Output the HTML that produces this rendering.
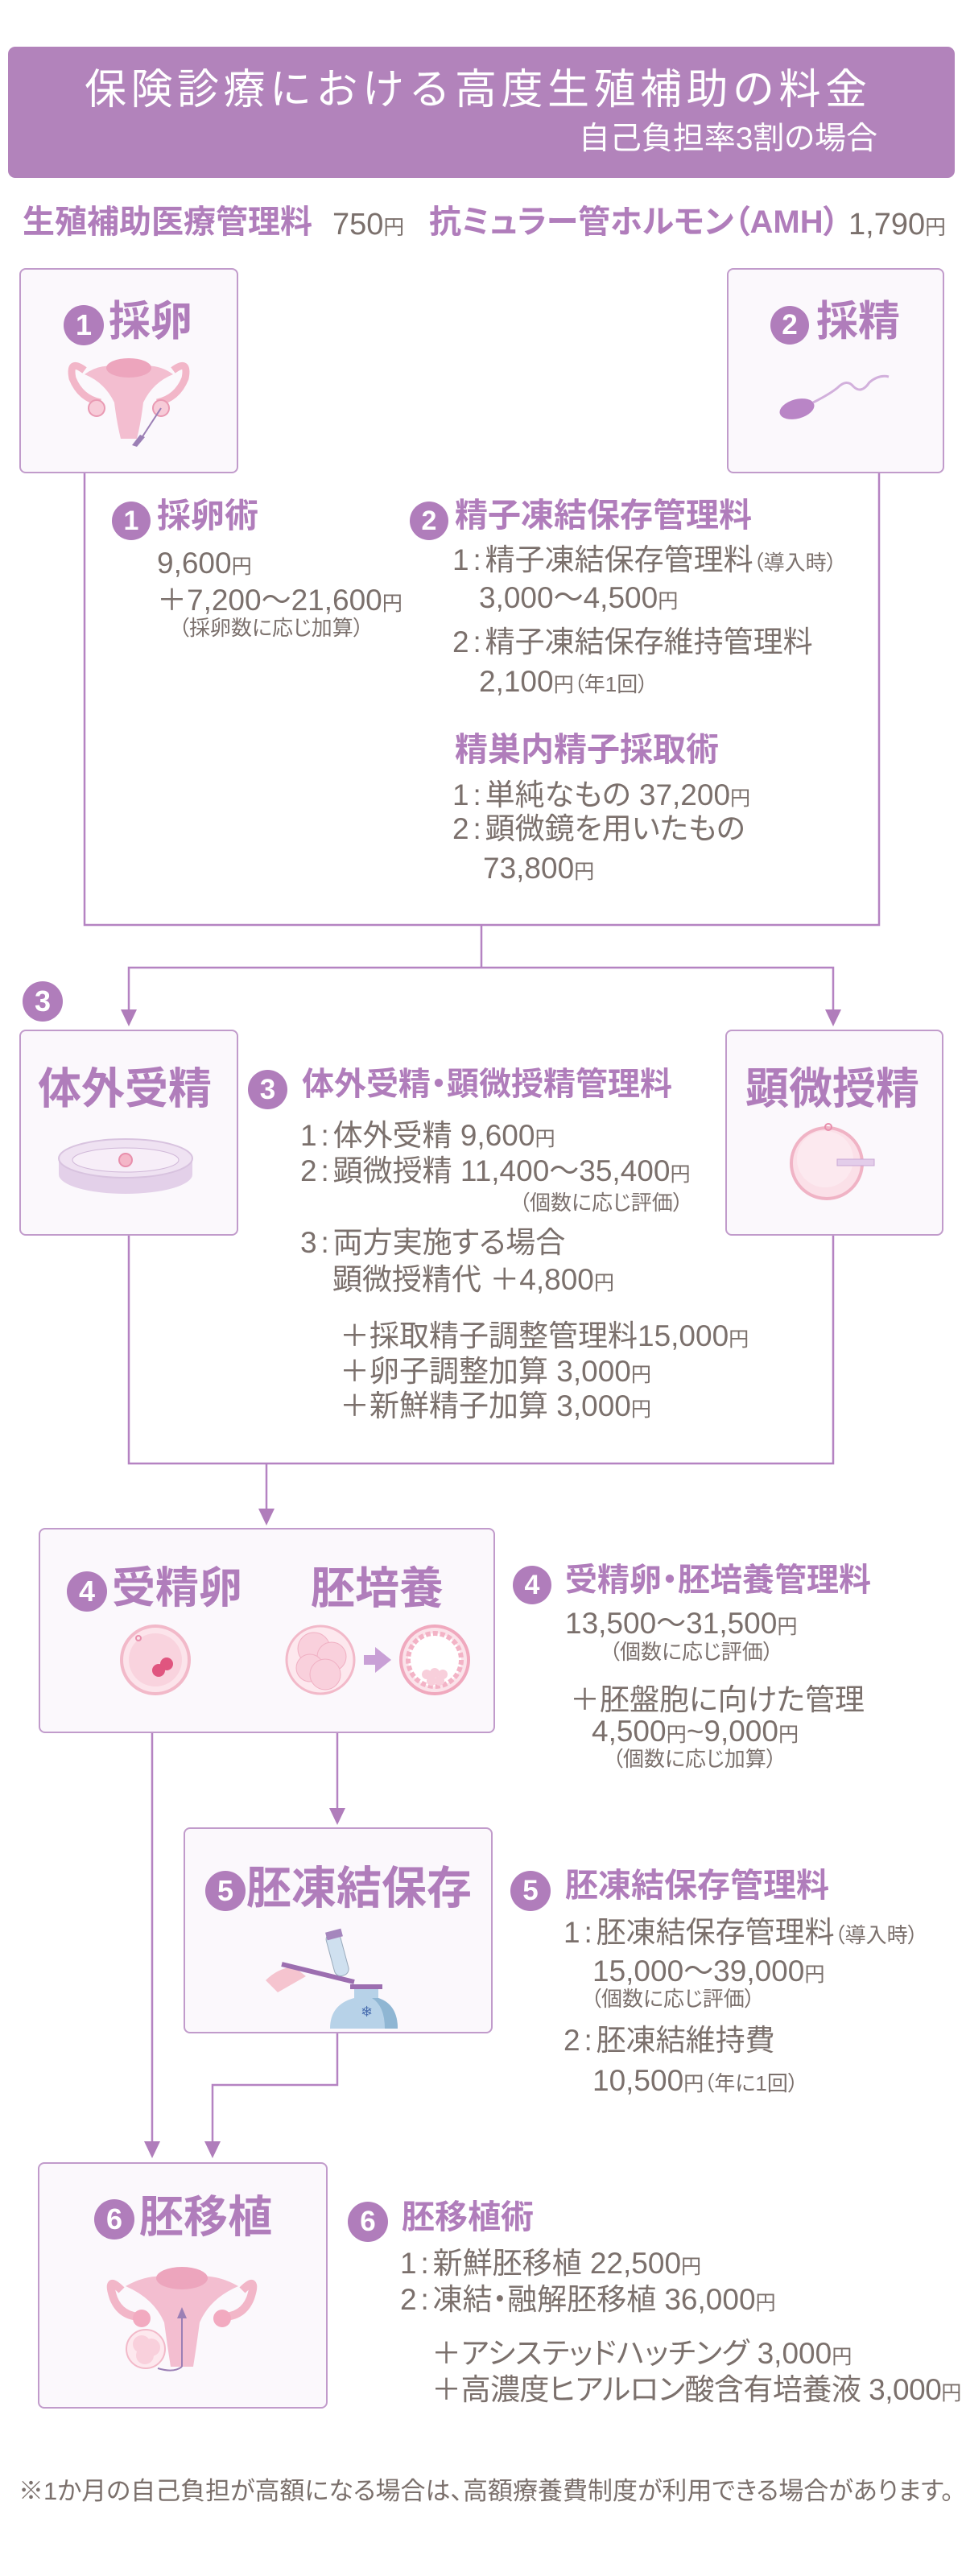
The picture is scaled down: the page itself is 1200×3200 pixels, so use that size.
<!DOCTYPE html>
<html><head><meta charset="utf-8">
<style>
html,body{margin:0;padding:0;background:#fff;}
#w{position:relative;width:1200px;height:3200px;overflow:hidden;font-family:"Liberation Sans","Noto Sans CJK JP",sans-serif;font-feature-settings:"palt";}
.t{position:absolute;white-space:nowrap;line-height:1;color:#7b706c;font-size:37px;font-family:"Liberation Sans Narrow","Liberation Sans","Noto Sans CJK JP",sans-serif;}
.p{color:#b07dbb;font-weight:bold;font-family:"Liberation Sans","Noto Sans CJK JP",sans-serif;}
.y{font-size:0.68em;}
.s{font-size:26px;}
.k{display:inline-block;width:20px;text-align:center;}
.c{position:absolute;border-radius:50%;background:#b07dbb;color:#fff;font-weight:bold;text-align:center;font-family:"Liberation Sans",sans-serif;}
.box{position:absolute;border:2px solid #c19bcb;border-radius:8px;background:#fbf8fc;box-sizing:border-box;}
svg.l{position:absolute;left:0;top:0;}
</style></head><body><div id="w">

<div style="position:absolute;left:10px;top:58px;width:1176px;height:163px;background:#b283bb;border-radius:9px;"></div>
<div class="t" style="left:105px;top:86px;font-size:52px;color:#fff;letter-spacing:5.5px;font-feature-settings:normal;font-family:'Liberation Sans','Noto Sans CJK JP',sans-serif;">保険診療における高度生殖補助の料金</div>
<div class="t" style="right:110px;top:153px;font-size:39px;color:#fff;font-family:'Liberation Sans','Noto Sans CJK JP',sans-serif;">自己負担率3割の場合</div>

<div class="t p" style="left:28px;top:256px;font-size:40px;">生殖補助医療管理料</div>
<div class="t" style="left:413px;top:260px;font-size:38px;">750<span class="y">円</span></div>
<div class="t p" style="left:533px;top:256px;font-size:40px;">抗ミュラー管ホルモン（AMH）</div>
<div class="t" style="left:1054px;top:260px;font-size:38px;">1,790<span class="y">円</span></div>

<!-- boxes -->
<div class="box" style="left:24px;top:333px;width:272px;height:255px;"></div>
<div class="box" style="left:903px;top:333px;width:270px;height:255px;"></div>
<div class="box" style="left:24px;top:1279px;width:272px;height:256px;"></div>
<div class="box" style="left:901px;top:1279px;width:271px;height:256px;"></div>
<div class="box" style="left:48px;top:1898px;width:567px;height:255px;"></div>
<div class="box" style="left:228px;top:2270px;width:384px;height:256px;"></div>
<div class="box" style="left:47px;top:2686px;width:360px;height:306px;"></div>

<!-- connectors -->
<svg class="l" width="1200" height="3200">
<g stroke="#b583c2" stroke-width="2.5" fill="none">
<path d="M105 588V1149H1092V588"/>
<path d="M598 1149V1202M160 1256V1202H1035V1256"/>
<path d="M160 1535V1818H1035V1535M331 1818V1876"/>
<path d="M189 2153V2662M419 2153V2248M419 2526V2590H264V2662"/>
</g>
<g fill="#b07dbb">
<path d="M150 1254h20l-10 21z"/><path d="M1025 1254h20l-10 21z"/>
<path d="M321 1874h20l-10 21z"/>
<path d="M409 2246h20l-10 21z"/>
<path d="M179 2660h20l-10 21z"/><path d="M254 2660h20l-10 21z"/>
</g>
</svg>

<!-- box titles -->
<div class="c" style="left:79px;top:379px;width:50px;height:50px;line-height:50px;font-size:36px;">1</div>
<div class="t p" style="left:135px;top:374px;font-size:52px;">採卵</div>
<div class="c" style="left:957px;top:380px;width:48px;height:48px;line-height:48px;font-size:35px;">2</div>
<div class="t p" style="left:1014px;top:374px;font-size:52px;">採精</div>

<div class="c" style="left:28px;top:1219px;width:50px;height:50px;line-height:50px;font-size:36px;">3</div>
<div class="t p" style="left:47px;top:1326px;font-size:54px;">体外受精</div>
<div class="t p" style="left:926px;top:1326px;font-size:54px;">顕微授精</div>

<div class="c" style="left:83px;top:1952px;width:50px;height:50px;line-height:50px;font-size:36px;">4</div>
<div class="t p" style="left:139px;top:1946px;font-size:54px;">受精卵</div>
<div class="t p" style="left:386px;top:1946px;font-size:55px;">胚培養</div>

<div class="c" style="left:255px;top:2324px;width:50px;height:50px;line-height:50px;font-size:36px;">5</div>
<div class="t p" style="left:306px;top:2318px;font-size:56px;">胚凍結保存</div>

<div class="c" style="left:117px;top:2732px;width:50px;height:50px;line-height:50px;font-size:36px;">6</div>
<div class="t p" style="left:173px;top:2727px;font-size:55px;">胚移植</div>

<!-- illustrations -->
<svg class="l" width="1200" height="3200">
 <g transform="translate(160,495)">
  <path d="M-55 -35 Q-75 -50 -70 -25 Q-60 0 -35 5" stroke="#f2b6c8" stroke-width="9" fill="none"/>
  <path d="M55 -35 Q75 -50 70 -25 Q60 0 35 5" stroke="#f2b6c8" stroke-width="9" fill="none"/>
  <path d="M-55 -30 Q-30 -48 0 -35 Q30 -48 55 -30 Q30 -20 18 5 Q15 30 10 50 L-10 50 Q-15 30 -18 5 Q-30 -20 -55 -30Z" fill="#f3bed0"/>
  <ellipse cx="0" cy="-38" rx="28" ry="12" fill="#eda5bd"/>
  <circle cx="-40" cy="12" r="10" fill="#f7cbd8" stroke="#e99ab3" stroke-width="2"/>
  <circle cx="40" cy="12" r="10" fill="#f7cbd8" stroke="#e99ab3" stroke-width="2"/>
  <path d="M40 12 L12 55" stroke="#9b7fb5" stroke-width="2"/>
  <path d="M14 45 L4 58 L10 60 L20 48Z" fill="#9b7fb5"/>
 </g>
 <ellipse cx="990" cy="508" rx="22" ry="12" transform="rotate(-15 990 508)" fill="#b985c6"/>
 <path d="M1010 500 Q1030 490 1040 482 Q1052 470 1060 480 Q1070 490 1080 475 Q1092 465 1104 468" stroke="#d2b0dc" stroke-width="3" fill="none"/>
 <g transform="translate(156,1447)">
  <ellipse cx="0" cy="12" rx="83" ry="24" fill="#e3d0e9"/>
  <rect x="-83" y="-8" width="166" height="20" fill="#e3d0e9"/>
  <ellipse cx="0" cy="-8" rx="83" ry="24" fill="#efe2f2" stroke="#d8c3df" stroke-width="2"/>
  <ellipse cx="0" cy="-6" rx="66" ry="15" fill="#f7eef8" stroke="#d0b8d8"/>
  <circle cx="0" cy="-6" r="8" fill="#f4b6c8" stroke="#e88fac" stroke-width="2"/>
 </g>
 <circle cx="1027" cy="1445" r="44" fill="#fbe0e8" stroke="#f0b3c5" stroke-width="4"/>
 <circle cx="1025" cy="1440" r="35" fill="#fce9ef"/>
 <circle cx="1029" cy="1400" r="4" fill="none" stroke="#e88fac" stroke-width="2"/>
 <rect x="1040" y="1440" width="46" height="8" fill="#e3cdea" stroke="#c9a6d4"/>
 <circle cx="193" cy="2062" r="42" fill="#fce4eb" stroke="#f2b9c9" stroke-width="4"/>
 <circle cx="193" cy="2062" r="33" fill="#f9d3de"/>
 <circle cx="197" cy="2075" r="8" fill="#e0557f"/><circle cx="207" cy="2067" r="8" fill="#e0557f"/>
 <circle cx="172" cy="2035" r="3" fill="none" stroke="#e88fac" stroke-width="2"/>
 <circle cx="398" cy="2062" r="42" fill="#fde8ee" stroke="#f2b9c9" stroke-width="3"/>
 <circle cx="390" cy="2048" r="20" fill="#f9d0dc" stroke="#f0b0c3"/>
 <circle cx="412" cy="2058" r="18" fill="#f9d0dc" stroke="#f0b0c3"/>
 <circle cx="385" cy="2072" r="17" fill="#f9d0dc" stroke="#f0b0c3"/>
 <circle cx="404" cy="2080" r="19" fill="#f9d0dc" stroke="#f0b0c3"/>
 <path d="M452 2056h14v-10l20 16-20 16v-10h-14z" fill="#c9a0d6"/>
 <circle cx="540" cy="2062" r="42" fill="#fbe3ea" stroke="#f0a9be" stroke-width="4"/>
 <circle cx="540" cy="2062" r="33" fill="#fff" stroke="#f3b3c6" stroke-width="6" stroke-dasharray="6 3"/>
 <circle cx="530" cy="2080" r="6" fill="#f8cfdb"/><circle cx="540" cy="2078" r="6" fill="#f8cfdb"/><circle cx="550" cy="2080" r="6" fill="#f8cfdb"/><circle cx="536" cy="2088" r="6" fill="#f8cfdb"/><circle cx="546" cy="2088" r="6" fill="#f8cfdb"/>
 <path d="M345 2475 L330 2460 Q345 2445 365 2443 L380 2455 Z" fill="#f5c4cf"/>
 <path d="M350 2440 L440 2462" stroke="#9c6eb0" stroke-width="6"/>
 <rect x="410" y="2400" width="18" height="55" rx="8" transform="rotate(-15 419 2427)" fill="#cfe0ef" stroke="#9ab"/>
 <rect x="405" y="2398" width="20" height="10" transform="rotate(-15 415 2403)" fill="#a586bd"/>
 <path d="M410 2520 Q410 2490 440 2482 L440 2470 L470 2470 L470 2482 Q494 2490 494 2520 Z" fill="#b7d2e8"/>
 <path d="M470 2482 Q494 2490 494 2520 L478 2520 Q478 2492 462 2482Z" fill="#8fb6d3"/>
 <rect x="435" y="2465" width="40" height="6" fill="#9c6eb0"/>
 <text x="448" y="2505" font-size="18" fill="#4a6fb0" font-family="DejaVu Sans">❄</text>
 <g transform="translate(226,2870)">
  <path d="M-75 -25 Q-95 -45 -85 -15 Q-75 10 -45 8" stroke="#f2b6c8" stroke-width="10" fill="none"/>
  <path d="M75 -25 Q95 -45 85 -15 Q75 10 45 8" stroke="#f2b6c8" stroke-width="10" fill="none"/>
  <path d="M-70 -30 Q-35 -50 0 -38 Q35 -50 70 -30 Q35 -15 22 15 Q18 45 14 70 L-14 70 Q-18 45 -22 15 Q-35 -15 -70 -30Z" fill="#f3bed0"/>
  <ellipse cx="0" cy="-40" rx="32" ry="14" fill="#eda5bd"/>
  <circle cx="-50" cy="10" r="11" fill="#f2aac0"/><circle cx="50" cy="10" r="11" fill="#f2aac0"/>
  <path d="M0 70 V0" stroke="#9b7fb5" stroke-width="2"/><path d="M-6 10 L0 -4 L6 10Z" fill="#9b7fb5"/>
  <circle cx="-45" cy="48" r="24" fill="#fde8ee" stroke="#f2b9c9" stroke-width="2"/>
  <circle cx="-50" cy="42" r="11" fill="#f9d0dc"/><circle cx="-38" cy="46" r="11" fill="#f9d0dc"/><circle cx="-46" cy="56" r="11" fill="#f9d0dc"/>
  <path d="M-30 72 Q-10 78 0 70" stroke="#9b7fb5" stroke-width="2" fill="none"/>
 </g>
</svg>

<!-- section 1 -->
<div class="c" style="left:139px;top:623px;width:48px;height:48px;line-height:48px;font-size:34px;">1</div>
<div class="t p" style="left:195px;top:620px;font-size:42px;">採卵術</div>
<div class="t" style="left:195px;top:681px;">9,600<span class="y">円</span></div>
<div class="t" style="left:195px;top:727px;">＋7,200～21,600<span class="y">円</span></div>
<div class="t s" style="left:222px;top:767px;">（採卵数に応じ加算）</div>

<div class="c" style="left:509px;top:623px;width:48px;height:48px;line-height:48px;font-size:34px;">2</div>
<div class="t p" style="left:565px;top:620px;font-size:41px;">精子凍結保存管理料</div>
<div class="t" style="left:562px;top:677px;">1<span class="k">:</span>精子凍結保存管理料<span class="s">（導入時）</span></div>
<div class="t" style="left:595px;top:724px;">3,000～4,500<span class="y">円</span></div>
<div class="t" style="left:562px;top:779px;">2<span class="k">:</span>精子凍結保存維持管理料</div>
<div class="t" style="left:595px;top:828px;">2,100<span class="y">円</span><span class="s">（年1回）</span></div>
<div class="t p" style="left:565px;top:911px;font-size:41px;">精巣内精子採取術</div>
<div class="t" style="left:562px;top:969px;">1<span class="k">:</span>単純なもの 37,200<span class="y">円</span></div>
<div class="t" style="left:562px;top:1011px;">2<span class="k">:</span>顕微鏡を用いたもの</div>
<div class="t" style="left:600px;top:1060px;">73,800<span class="y">円</span></div>

<!-- section 3 -->
<div class="c" style="left:308px;top:1329px;width:49px;height:49px;line-height:49px;font-size:35px;">3</div>
<div class="t p" style="left:375px;top:1327px;font-size:40px;">体外受精・顕微授精管理料</div>
<div class="t" style="left:373px;top:1392px;">1<span class="k">:</span>体外受精 9,600<span class="y">円</span></div>
<div class="t" style="left:373px;top:1436px;">2<span class="k">:</span>顕微授精 11,400～35,400<span class="y">円</span></div>
<div class="t s" style="left:645px;top:1481px;">（個数に応じ評価）</div>
<div class="t" style="left:373px;top:1525px;">3<span class="k">:</span>両方実施する場合</div>
<div class="t" style="left:413px;top:1571px;">顕微授精代 ＋4,800<span class="y">円</span></div>
<div class="t" style="left:422px;top:1641px;">＋採取精子調整管理料15,000<span class="y">円</span></div>
<div class="t" style="left:422px;top:1685px;">＋卵子調整加算 3,000<span class="y">円</span></div>
<div class="t" style="left:422px;top:1728px;">＋新鮮精子加算 3,000<span class="y">円</span></div>

<!-- section 4 -->
<div class="c" style="left:637px;top:1945px;width:48px;height:48px;line-height:48px;font-size:34px;">4</div>
<div class="t p" style="left:702px;top:1943px;font-size:40px;">受精卵・胚培養管理料</div>
<div class="t" style="left:702px;top:1998px;">13,500～31,500<span class="y">円</span></div>
<div class="t s" style="left:757px;top:2039px;">（個数に応じ評価）</div>
<div class="t" style="left:708px;top:2093px;">＋胚盤胞に向けた管理</div>
<div class="t" style="left:735px;top:2132px;">4,500<span class="y">円</span>~9,000<span class="y">円</span></div>
<div class="t s" style="left:761px;top:2172px;">（個数に応じ加算）</div>

<!-- section 5 -->
<div class="c" style="left:634px;top:2324px;width:50px;height:50px;line-height:50px;font-size:35px;">5</div>
<div class="t p" style="left:702px;top:2322px;font-size:41px;">胚凍結保存管理料</div>
<div class="t" style="left:700px;top:2382px;">1<span class="k">:</span>胚凍結保存管理料<span class="s">（導入時）</span></div>
<div class="t" style="left:736px;top:2430px;">15,000～39,000<span class="y">円</span></div>
<div class="t s" style="left:734px;top:2470px;">（個数に応じ評価）</div>
<div class="t" style="left:700px;top:2516px;">2<span class="k">:</span>胚凍結維持費</div>
<div class="t" style="left:736px;top:2566px;">10,500<span class="y">円</span><span class="s">（年に1回）</span></div>

<!-- section 6 -->
<div class="c" style="left:432px;top:2735px;width:50px;height:50px;line-height:50px;font-size:35px;">6</div>
<div class="t p" style="left:499px;top:2734px;font-size:41px;">胚移植術</div>
<div class="t" style="left:497px;top:2793px;">1<span class="k">:</span>新鮮胚移植 22,500<span class="y">円</span></div>
<div class="t" style="left:497px;top:2838px;">2<span class="k">:</span>凍結・融解胚移植 36,000<span class="y">円</span></div>
<div class="t" style="left:536px;top:2905px;">＋アシステッドハッチング 3,000<span class="y">円</span></div>
<div class="t" style="left:536px;top:2950px;letter-spacing:-0.5px;">＋高濃度ヒアルロン酸含有培養液 3,000<span class="y">円</span></div>

<div class="t" style="left:23px;top:3079px;font-size:31px;">※1か月の自己負担が高額になる場合は、高額療養費制度が利用できる場合があります。</div>

</div></body></html>
